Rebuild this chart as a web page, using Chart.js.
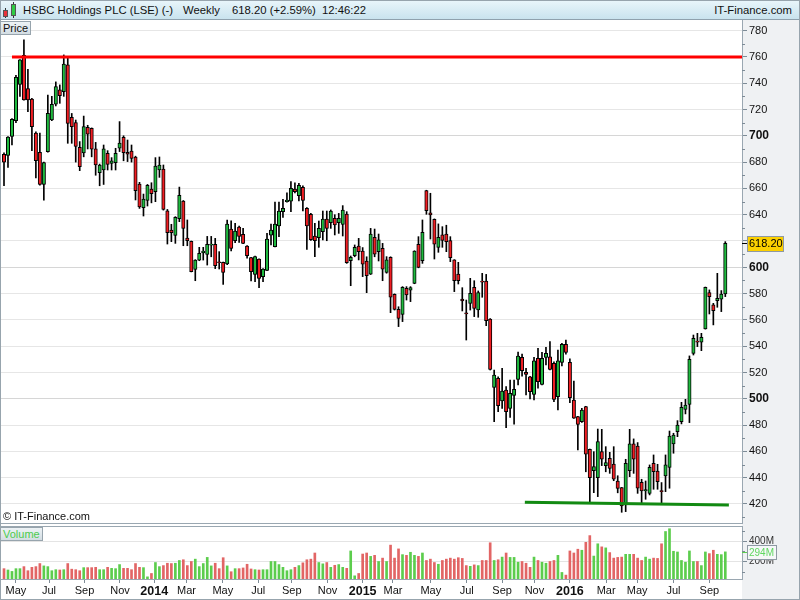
<!DOCTYPE html>
<html><head><meta charset="utf-8">
<script src="https://cdn.jsdelivr.net/npm/chart.js@4.4.0/dist/chart.umd.min.js"></script>
<style>
html,body{margin:0;padding:0;background:#fff;}
body{width:800px;height:600px;position:relative;overflow:hidden;font-family:"Liberation Sans",Arial,sans-serif;color:#111;}
.a{position:absolute;}
#hdr{left:0;top:0;width:800px;height:19px;background:linear-gradient(#eaf6fb,#c9e3ee);border-bottom:1px solid #8fa1ad;}
.ht{position:absolute;top:4px;font-size:11.3px;line-height:12px;white-space:nowrap;color:#111;}
#strip{left:742px;top:20px;width:58px;height:580px;background:#eff1f3;}
canvas{position:absolute;left:0;}
.line{position:absolute;background:#9aa7b1;}
.lbl{position:absolute;left:0;height:12px;border:1px solid #97a4ad;background:linear-gradient(#eef3f6,#d3dde3);font-size:11px;line-height:12px;padding:0 2px;}
#frame{left:0;top:0;width:798px;height:598px;border:1px solid #97a4ad;pointer-events:none;}
</style></head>
<body>
<div id="strip" class="a"></div>
<div id="hdr" class="a">
  <div class="a" style="left:5px;top:8px;width:1px;height:10px;background:#333"></div>
  <div class="a" style="left:3px;top:10px;width:3px;height:5px;background:#e8333a;border:1px solid #555"></div>
  <div class="a" style="left:13px;top:2px;width:1px;height:16px;background:#333"></div>
  <div class="a" style="left:11px;top:4px;width:3px;height:10px;background:#2fcc44;border:1px solid #555"></div>
  <div class="ht" style="left:23px">HSBC Holdings PLC (LSE) (-)</div>
  <div class="ht" style="left:183px">Weekly</div>
  <div class="ht" style="left:232px">618.20 (+2.59%)</div>
  <div class="ht" style="left:322px">12:46:22</div>
  <div class="ht" style="right:8px">IT-Finance.com</div>
</div>
<canvas id="pc" width="800" height="503" style="top:20px"></canvas>
<canvas id="vc" width="800" height="72" style="top:527px"></canvas>
<div class="line" style="left:0;top:523px;width:743px;height:1px"></div>
<div class="line" style="left:0;top:526px;width:743px;height:1px"></div>
<div class="lbl" style="top:21px;">Price</div>
<div class="lbl" style="top:527px;color:#4ccc4c;">Volume</div>
<div class="a" style="left:3px;top:510px;font-size:11px;line-height:12px;">© IT-Finance.com</div>
<div id="frame" class="a"></div>
<script>
// ---------------- data (weekly, one entry per week) ----------------
const opens = [
686,685,699.5,711.5,739,761.2,736,728,702,687.5,
663,688,712,724,735,733.6,753.9,714,710,691.3,
687,706.5,705.7,690,672,674,686.7,679,679.6,690.5,
698.9,687.5,688.4,683.9,663.3,645.3,650.9,659.5,657.5,674,
674.7,643,628.3,624.3,637,650.4,622.3,619.7,598.4,605.5,
611,609.8,616.8,617.4,604.2,603.8,602.5,629,620.2,630.6,
625,616.2,607.3,594.6,606.3,592.9,597.7,624.5,615.7,631.4,
642.3,649.9,650.2,659.5,654.5,660.8,644.8,640.3,623.8,622.5,
627,636.7,633.9,637.2,633.9,632.7,640.5,605,608.8,616.2,
612.4,604.8,594.7,622.8,611.9,614.4,596.2,607.6,579.4,568,
564.2,584,582.7,587.8,617.5,605,658.3,641.5,636.5,615.2,
624.6,625.3,620.3,605.6,594.9,575.9,565.3,572.6,584.8,567.5,
589.6,589.6,560.7,508.7,515.6,498.3,506.7,492.7,502.6,514.8,
531.5,520.1,516.8,503.4,530.8,511,531.5,532,527,501.6,
527.7,541.4,527.7,499.1,486.4,482.6,494,461.6,445.3,440,
459.8,449.2,454.8,450.4,437.5,432.4,419.3,445.4,465.7,464.1,
436.5,429.9,428.1,450.9,445.1,430.2,441.3,447.9,465.7,475,
482.6,492,495.8,534.6,543.9,543,553.1,580.7,571.4,574.7,
575.7,579.7];
const highs = [
687,699.5,713,746,758,773,750.6,728.5,703,702,
680,731,730,741,738.7,761.5,759,717,712,695.6,
715,708,706,695,678.5,693,688.7,683.4,690.5,710.8,
700,696.8,693,684.5,664.6,655.7,663,664.3,683.4,683.9,
677.8,644,632.7,638.5,661,650.8,636,620,605.8,615.2,
615.2,623.5,623.5,622,611.9,604,636,635.4,633.4,631.4,
629.6,616.5,607.5,608.5,606.5,599,625.8,632.9,649.6,649.6,
651.7,656.7,665.1,664.3,663.8,662,645.5,641,633.4,635.2,
642.8,642.8,643.6,640,641,646.9,642.3,608.6,617,622,
615,608,629.6,629.1,625.3,618.2,608.1,608,579.8,570,
585.3,585.3,585.3,612.6,623.3,636,658.6,656.3,636.8,633,
630.9,632,623.3,605.8,603.8,584.5,575.1,591.6,589.8,582,
595.4,594.6,561,521.9,516.8,523.2,509.2,514.3,514.3,535.6,
534,523.2,517,531.5,538.4,535.3,539.1,543.5,528.2,537.1,
542.2,544.7,530.3,513.5,486.6,492.7,494.3,461.8,459.8,477,
476.8,463.6,459.3,463.6,441.5,432.6,454,476.8,469.5,466.7,
438.8,437.5,449.7,457.3,450.2,436.3,457.3,475.5,473.8,483.4,
497.3,499.6,532.6,548.5,549.8,549.8,585,582.8,572.6,595.4,
582.3,619.5];
const lows = [
662,676,693,710,730,727,718.4,688.7,668,662.5,
651,687.5,711.5,722.7,724.7,730,694.3,694.3,680,673.5,
684,690,684,670,662,663,674,674,674,688,
681,680.4,680,651.2,644.8,639,646.6,649,649.9,668.4,
643.5,617.7,619.5,618.2,634.7,616.4,616.4,596.5,589.8,605,
605.5,601.7,608,599,598.7,587,602,612.4,618.7,619,
618,607,589.6,589,584.5,589,597.5,617,615.5,623.3,
638,649.5,642.3,656.5,650.4,642.8,613.6,620.5,608,615.2,
620.8,620.2,629.6,624.6,625.8,623.8,603,586,608,605.6,
592.9,580.7,594.5,608,604.8,589.8,595.5,565.5,567.5,554.9,
558.7,575.1,573.9,587.5,599.6,603,640.3,621.5,606.3,611.4,
615.2,611.9,604.3,581.5,587.3,566.8,544.7,567.5,562.5,562,
577.2,555.6,521.9,482.6,490.2,492.7,478,485.9,480.8,510.5,
517.3,502.9,500,499.1,508,510.5,525.7,521.9,497.8,491.5,
525,534,497,485,461.1,482,444.5,421,428.6,425.6,
449.2,444.5,443.3,437.7,428.5,413.7,414.2,440.8,443.3,428.1,
420.5,423.6,426.9,431.2,431.2,420.5,429.4,432,458.6,471.2,
480.9,488.5,481.9,533.3,539.7,536.6,553,564.5,556.2,569.6,
566.3,577.7];
const closes = [
680,699,712.5,744.5,757.7,727.3,727.3,707,681,663,
679.6,717,724,737.4,730.6,754.6,709.5,707,692,676.6,
707,701.2,689.8,677.8,677.8,690,678.3,680.9,686.7,694.5,
687.2,686,682.8,658.3,646,651.9,662.3,656,677,677.8,
644,626.3,626.3,638,654.7,629.6,620.2,596.7,605.5,610.6,
612.4,617.4,617.6,601.2,603.6,596.2,632.9,614.4,627.6,623.5,
618.2,608.8,596.7,608.1,591.6,598.7,621.5,628.3,632.9,642.8,
644.8,651.2,660,657.5,662.3,650.9,631.4,621,620.2,629.6,
636.7,629.6,642.8,632.2,637.2,643.6,603.5,607.6,615.2,611.9,
602.3,593.6,625.3,609.9,620.8,598.5,605.6,577.2,568,561.2,
584.8,579,584.5,612.4,600,626.6,643.1,639.8,617.5,622.8,
620.5,619.5,607.3,589.8,589.8,574.4,564.5,580.2,568.8,580.7,
588.6,559.4,522.4,518.1,494.8,505.9,490.2,504.2,507.2,532.5,
521.4,518.6,505.4,528.8,513,530.8,534.6,522.4,499.6,528.8,
541.4,535.3,500.9,485.2,480.6,491.5,457.8,440,448.4,467.4,
454,451.5,447.1,438.8,431.9,418.5,450.9,465.7,454,432,
429.9,431,447.9,444.6,437,429.4,449.7,471.7,472.5,480.1,
493.5,495.2,530,546,543,546.8,584.8,577.7,567.1,576.4,
579.7,618.2];
// weekly volume, millions of shares
const volumes = [
130,117,103,130,130,150,110,143,150,180,
157,150,110,120,117,120,180,125,120,110,
140,140,140,143,120,120,143,133,130,170,
133,133,120,180,143,140,50,83,190,150,
160,183,180,183,210,217,160,200,223,150,
180,240,157,183,130,237,157,100,130,130,
137,173,127,120,117,120,120,200,200,170,
143,110,120,143,160,187,217,223,283,190,
177,190,143,163,170,143,133,303,60,83,
273,283,250,260,200,233,200,360,233,323,
267,260,290,260,250,283,210,223,190,173,
210,223,233,223,237,230,160,153,167,160,
210,210,383,210,217,243,283,240,240,193,
200,183,143,243,210,193,183,200,210,260,
93,67,303,283,320,310,387,453,253,373,
343,333,287,233,240,243,270,270,270,233,
210,243,223,233,230,373,493,520,300,293,
210,193,303,200,200,160,293,277,310,270,
267,294];
// x-axis (week index) ticks
const tickWeeks  = [3.0,11.3,20.2,29.1,37.7,45.8,54.9,63.8,72.2,81.2,90.0,97.6,107.1,116.1,125.0,133.1,142.0,151.1,158.9,168.0,177.0];
const tickLabels = ['May','Jul','Sep','Nov','2014','Mar','May','Jul','Sep','Nov','2015','Mar','May','Jul','Sep','Nov','2016','Mar','May','Jul','Sep'];
const priceTicks = [420,440,460,480,500,520,540,560,580,600,620,640,660,680,700,720,740,760,780];
const priceMinorTicks = [410,430,450,470,490,510,530,550,570,590,610,630,650,670,690,710,730,750,770,790];
const volTicks = [200,400];
const volMinorTicks = [100,300,500];
// drawn trend lines (week index, price)
const resistX = [2, 186], resistY = [760, 760];
const supportX = [130.7, 181.9], supportY = [421.4, 419.3];

// ---------------- chart ----------------
const FAM = '"Liberation Sans", Arial, sans-serif';
Chart.defaults.font.family = FAM;
const N = closes.length;
const isUp = closes.map((c,i)=>c>=opens[i]);
const RED='#f01e23', GREEN='#1fba3f', VRED='#e26565', VGREEN='#5ccd4d';
const X_MIN = -1.004, X_MAX = 185.19;
const AXIS='#9aa7b1';
const noPad = s=>{s.paddingTop=0;s.paddingBottom=0;s.paddingLeft=0;s.paddingRight=0;};

const pricePlugin = {
  id:'pricePlugin',
  afterDraw(chart){
    const c = chart.ctx, y = chart.scales.y;
    c.save();
    c.fillStyle = '#7d8b96';
    priceMinorTicks.forEach(v=>{
      const p = Math.round(y.getPixelForValue(v));
      if (p>0 && p<chart.height) c.fillRect(y.left, p, 3, 1);
    });
    const last = closes[N-1];
    const py = Math.round(y.getPixelForValue(last));
    c.fillStyle = '#000';
    c.fillRect(y.left, py, 5, 1);
    c.fillStyle = '#fcd000';
    c.fillRect(y.left+5, py-7, 36, 15);
    c.strokeStyle = '#8e99a3'; c.lineWidth = 1;
    c.strokeRect(y.left+5.5, py-6.5, 36, 15);
    c.fillStyle = '#000'; c.font = '11px '+FAM; c.textBaseline='middle'; c.textAlign='left';
    c.fillText(last.toFixed(2), y.left+7, py+1);
    c.restore();
  }
};

new Chart(document.getElementById('pc'), {
  type:'bar',
  data:{ datasets:[
    { type:'bar', data: closes.map((c,i)=>({x:i, y:[lows[i], highs[i]]})), backgroundColor:'#000',
      barThickness:1, grouped:false, order:3 },
    { type:'bar', data: closes.map((c,i)=>({x:i, y:[opens[i], c]})),
      backgroundColor: isUp.map(u=>u?GREEN:RED), borderColor:'#000', borderWidth:1, borderSkipped:false,
      barThickness:3.4, grouped:false, order:2 },
    { type:'line', data: resistX.map((x,i)=>({x, y:resistY[i]})), borderColor:'#ff0000', borderWidth:3,
      pointRadius:0, clip:0, order:1 },
    { type:'line', data: supportX.map((x,i)=>({x, y:supportY[i]})), borderColor:'#128a12', borderWidth:3,
      pointRadius:0, clip:0, order:1 }
  ]},
  options:{
    responsive:false, animation:false, devicePixelRatio:1,
    layout:{padding:0},
    plugins:{legend:{display:false}, tooltip:{enabled:false}},
    scales:{
      x:{type:'linear', min:X_MIN, max:X_MAX, display:false, offset:false, grid:{offset:false}},
      y:{type:'linear', position:'right', min:405.55, max:788.06,
        afterFit:s=>{s.width=58; noPad(s);},
        afterBuildTicks:s=>{s.ticks = priceTicks.map(v=>({value:v}));},
        grid:{color:ctx=>(ctx.tick && ctx.tick.value%100===0)?'#d6d6d6':'#e6e6e6', lineWidth:1,
              tickLength:5, tickColor:'#7d8b96'},
        border:{color:AXIS, width:1},
        ticks:{padding:2, color:'#111', autoSkip:false,
          font:ctx=>(ctx.tick && ctx.tick.value%100===0)?{family:FAM,size:12,weight:'bold'}:{family:FAM,size:11},
          callback:v=>String(v)}
      }
    }
  },
  plugins:[pricePlugin]
});

const volPlugin = {
  id:'volPlugin',
  afterDraw(chart){
    const c = chart.ctx, y = chart.scales.y;
    c.save();
    c.fillStyle = '#7d8b96';
    volMinorTicks.forEach(v=>{
      const p = Math.round(y.getPixelForValue(v));
      if (p>=0 && p<=chart.chartArea.bottom) c.fillRect(y.left, p, 3, 1);
    });
    const last = volumes[N-1];
    const py = Math.round(y.getPixelForValue(last));
    c.fillStyle = '#5ccd4d';
    c.fillRect(y.left, py, 5, 1);
    c.fillStyle = '#f6f8f9';
    c.fillRect(y.left+5, py-7, 29, 14);
    c.strokeStyle = '#8e99a3'; c.lineWidth = 1;
    c.strokeRect(y.left+5.5, py-6.5, 29, 14);
    c.fillStyle = '#5fd85f'; c.font = '10px '+FAM; c.textBaseline='middle'; c.textAlign='left';
    c.fillText(last+'M', y.left+7, py+1);
    c.restore();
  }
};

new Chart(document.getElementById('vc'), {
  type:'bar',
  data:{ datasets:[
    { data: volumes.map((v,i)=>({x:i, y:v})), backgroundColor: isUp.map(u=>u?VGREEN:VRED),
      barThickness:2, grouped:false }
  ]},
  options:{
    responsive:false, animation:false, devicePixelRatio:1,
    layout:{padding:0},
    plugins:{legend:{display:false}, tooltip:{enabled:false}},
    scales:{
      x:{type:'linear', min:X_MIN, max:X_MAX, offset:false,
        afterFit:s=>{s.height=20; noPad(s);},
        afterBuildTicks:s=>{s.ticks = tickWeeks.map(v=>({value:v}));},
        grid:{offset:false, drawOnChartArea:false, tickLength:4, tickColor:'#7d8b96', color:'#7d8b96'},
        border:{color:AXIS, width:1},
        ticks:{padding:1, color:'#111', autoSkip:false, maxRotation:0,
          font:ctx=>/^\d{4}$/.test(tickLabels[ctx.index])?{family:FAM,size:12.5,weight:'bold'}:{family:FAM,size:11},
          callback:(v,i)=>tickLabels[i]}
      },
      y:{type:'linear', position:'right', min:29, max:537,
        afterFit:s=>{s.width=58; noPad(s);},
        afterBuildTicks:s=>{s.ticks = volTicks.map(v=>({value:v}));},
        grid:{color:'#e4e4e4', lineWidth:1, tickLength:5, tickColor:'#7d8b96'},
        border:{color:AXIS, width:1},
        ticks:{padding:2, color:'#333', font:{family:FAM,size:10}, callback:v=>v+'M'}
      }
    }
  },
  plugins:[volPlugin]
});
</script>
</body></html>
